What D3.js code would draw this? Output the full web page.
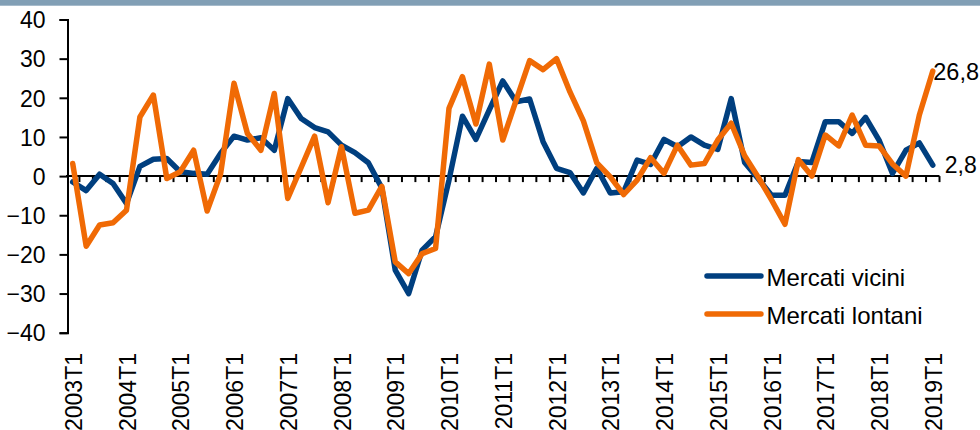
<!DOCTYPE html>
<html>
<head>
<meta charset="utf-8">
<script src="https://cdn.jsdelivr.net/npm/d3@7"></script>
<style>
  html, body { margin: 0; padding: 0; background: #fff; }
  svg { display: block; }
  text { font-family: "Liberation Sans", Arial, sans-serif; fill: #000; }
</style>
</head>
<body>
<svg id="chart" width="980" height="430"></svg>
<script>
// ---- data ----
const years = [2003,2004,2005,2006,2007,2008,2009,2010,2011,2012,2013,2014,2015,2016,2017,2018,2019];
const quarterSuffix = ["T1","T2","T3","T4"];
const tickLabels = ["2003T1","2004T1","2005T1","2006T1","2007T1","2008T1","2009T1","2010T1","2011T1",
                    "2012T1","2013T1","2014T1","2015T1","2016T1","2017T1","2018T1","2019T1"];
const yTicks = [-40,-30,-20,-10,0,10,20,30,40];

const mercatiVicini = [
  -1.5,-3.7,0.5,-1.9, -7.0,2.5,4.3,4.5, 1.1,0.7,0.5,5.8, 10.2,9.2,9.8,6.6,
  19.8,14.7,12.4,11.3, 7.9,6.0,3.4,-3.0, -24.0,-30.0,-18.9,-15.5, -1.0,15.3,9.4,16.9,
  24.3,19.0,19.7,8.8, 2.0,0.9,-4.3,2.0, -4.3,-4.0,4.1,3.0, 9.4,7.5,10.0,7.9,
  6.8,19.8,3.5,-0.6, -4.9,-4.9,3.7,3.5, 13.9,13.9,10.9,15.0, 9.2,0.7,6.6,8.5,
  2.8
];
const mercatiLontani = [
  3.2,-17.9,-12.5,-11.9, -8.7,15.1,20.7,-0.6, 1.1,6.6,-8.9,0.5, 23.7,10.9,6.6,21.1,
  -5.7,2.2,10.2,-6.8, 7.5,-9.5,-8.7,-2.6, -21.9,-24.9,-19.8,-18.5, 17.3,25.4,13.3,28.6,
  9.2,19.4,29.5,27.2, 30.0,21.5,14.1,3.4, -0.2,-4.7,-1.0,4.7, 0.7,7.9,2.8,3.2,
  9.2,13.5,5.2,-0.2, -6.1,-12.3,4.2,0.0, 10.5,7.7,15.6,7.9, 7.7,3.1,0.0,15.6,
  26.8
];
const seriesNames = ["Mercati vicini", "Mercati lontani"];
const seriesColors = ["#003f7f", "#f06a05"];
const endLabels = ["2,8", "26,8"];

// categories: quarters
const categories = [];
years.forEach(yr => quarterSuffix.forEach(q => { if (categories.length < mercatiVicini.length) categories.push(yr + q); }));

// ---- layout ----
const svg = d3.select("#chart");
const plotLeft = 66, plotRight = 939.5, plotTop = 19.5, plotBottom = 332.7;

const x = d3.scalePoint().domain(categories).range([plotLeft, plotRight]).padding(0.5);
const xb = d3.scaleBand().domain(categories).range([plotLeft, plotRight]);
const y = d3.scaleLinear().domain([-40, 40]).range([plotBottom, plotTop]);

// top band
svg.append("rect").attr("x", 0).attr("y", 0).attr("width", 980).attr("height", 5.7).attr("fill", "#819fb5");

// y axis
const yAxis = d3.axisLeft(y).tickValues(yTicks).tickSize(8).tickPadding(14).tickFormat(d3.format("d"));
const gy = svg.append("g").attr("transform", `translate(${plotLeft + 1.5},0)`).call(yAxis);
gy.select(".domain").attr("stroke", "#000").attr("stroke-width", 2);
gy.selectAll(".tick line").attr("stroke", "#000").attr("stroke-width", 2);
gy.selectAll(".tick text").style("font-size", "23px").style("font-family", "'Liberation Sans', Arial, sans-serif")
  .attr("fill", "#000").attr("dy", "0.36em");

// x axis at zero
const gx = svg.append("g").attr("transform", `translate(0,${y(0)})`);
gx.append("line").attr("x1", plotLeft).attr("x2", plotRight).attr("y1", 0).attr("y2", 0)
  .attr("stroke", "#000").attr("stroke-width", 2);
const boundaries = categories.map(c => xb(c)).concat([xb(categories[categories.length - 1]) + xb.bandwidth()]);
gx.selectAll("line.qt").data(boundaries.slice(1)).join("line").attr("class", "qt")
  .attr("x1", d => d).attr("x2", d => d).attr("y1", 0).attr("y2", 6)
  .attr("stroke", "#000").attr("stroke-width", 2);

// x tick labels (rotated)
svg.append("g").selectAll("text").data(tickLabels).join("text")
  .attr("transform", d => `translate(${x(d) + 1},353) rotate(-90)`)
  .attr("text-anchor", "end").attr("dy", "0.35em")
  .style("font-size", "23px").text(d => d);

// lines
const line = d3.line().x((d, i) => x(categories[i])).y(d => y(d));
[mercatiVicini, mercatiLontani].forEach((s, k) => {
  svg.append("path").datum(s).attr("d", line)
    .attr("fill", "none").attr("stroke", seriesColors[k]).attr("stroke-width", 5.5)
    .attr("stroke-linejoin", "round").attr("stroke-linecap", "round");
});

// end labels
const lastCat = categories[categories.length - 1];
svg.append("text").attr("x", x(lastCat) + 12).attr("y", y(mercatiVicini[mercatiVicini.length - 1]) + 8)
  .style("font-size", "23px").text(endLabels[0]);
svg.append("text").attr("x", x(lastCat) + 0.5).attr("y", y(mercatiLontani[mercatiLontani.length - 1]) + 9)
  .style("font-size", "23.5px").text(endLabels[1]);

// legend
const legY = [276, 314];
seriesNames.forEach((n, k) => {
  svg.append("line").attr("x1", 707).attr("x2", 761).attr("y1", legY[k]).attr("y2", legY[k])
    .attr("stroke", seriesColors[k]).attr("stroke-width", 5.5).attr("stroke-linecap", "round");
  svg.append("text").attr("x", 766.5).attr("y", legY[k] + 10).style("font-size", "24px").text(n);
});
</script>
</body>
</html>
